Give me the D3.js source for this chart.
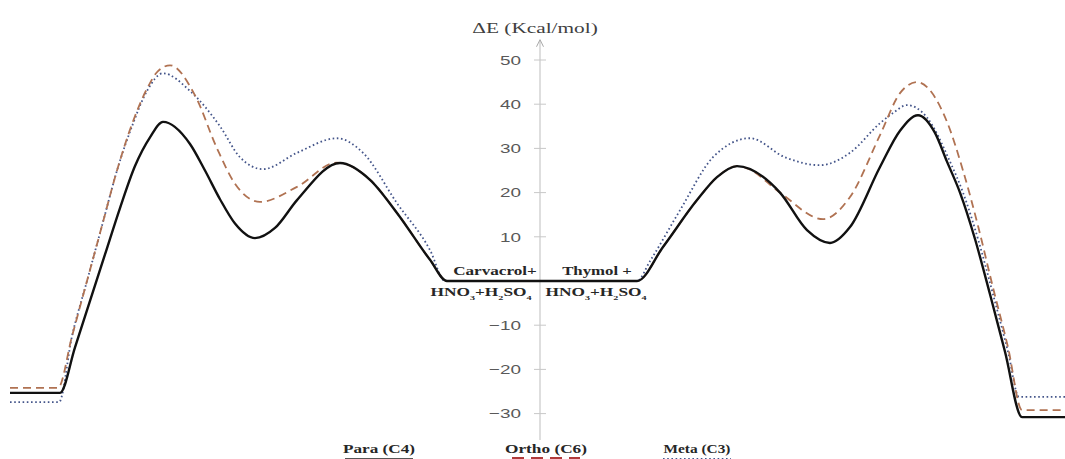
<!DOCTYPE html>
<html>
<head>
<meta charset="utf-8">
<script src="https://cdn.jsdelivr.net/npm/d3@7"></script>
<style>
  body { margin: 0; background: #fff; }
  .tick text { font-family: "Liberation Sans", sans-serif; font-size: 13.5px; fill: #595959; }
  .lbl { font-family: "Liberation Serif", "DejaVu Serif", serif; font-weight: bold; fill: #262626; }
</style>
</head>
<body>
<div id="chart"></div>
<script>
// reaction coordinate (0 = reactants) and energy (kcal/mol)
var paraX  = [-53, -48, -46.5, -45, -43.5, -42, -40.5, -39, -37.7, -35, -33.5, -32, -30.5, -28.5, -26.5, -24.3, -20, -17, -14.3, -11, -9.3, 0,
              9.7, 12.3, 15.7, 17.7, 19.7, 24, 26.7, 29, 31, 34, 36, 37.8, 39.5, 40.7, 42, 43.5, 45, 46.5, 48.2, 52.5];
var paraE  = [-25.3, -25.3, -15, -4.5, 6, 16.5, 26, 32.5, 36, 31, 25, 18.5, 13, 9.7, 12, 18.3, 26.7, 22.9, 15.4, 4.8, 0, 0,
              0, 7.7, 18.3, 23.5, 26, 20, 11.5, 8.6, 12.2, 25.8, 34, 37.5, 33.5, 27, 20, 9.5, -3, -16, -30.8, -30.8];

var orthoX = [-53, -48.2, -46.8, -45.3, -43.8, -42.3, -40.8, -39.3, -38.2, -37, -34.5, -32.3, -30.5, -28, -24.3, -20.3, -17, -14.3, -11, -9.3, 0,
              9.7, 12.3, 15.7, 17.7, 19.7, 20.7, 24, 28.3, 31, 34, 36, 37.7, 40.7, 42.3, 43.8, 45.3, 46.8, 48.2, 52.5];
var orthoE = [-24.2, -24.2, -12.5, 0, 12.5, 25, 35.5, 43.5, 47.5, 48.8, 42, 30, 22, 17.9, 21.3, 26.8, 22.9, 15.4, 4.8, 0, 0,
              0, 7.7, 18.3, 23.5, 26, 25.5, 20, 14, 19, 33, 42.5, 45, 36, 25, 12.5, -1.5, -15, -29.2, -29.2];

var metaX  = [-53, -48.1, -46.8, -45.3, -43.8, -42.3, -40.8, -39.3, -37.7, -35, -32, -30, -27.7, -24.3, -20.3, -17.7, -14.3, -11, -9.5, 0,
              9.7, 11, 14, 17.3, 21, 24.5, 28, 31, 34, 35.3, 36.7, 38.7, 41, 42.3, 43.8, 45.3, 46.8, 47.9, 52.5];
var metaE  = [-27.4, -27.4, -12.5, 0, 12.5, 25, 35, 43, 47, 43, 35, 28, 25.3, 29, 32.3, 29, 17.6, 7, 0, 0,
              0, 4.5, 16, 28, 32.3, 28, 26.2, 29, 35.7, 38, 39.8, 37, 27, 20, 9.5, -3, -16, -26.2, -26.2];

var yTicks = [-30, -20, -10, 10, 20, 30, 40, 50];
var legendNames = ["Para (C4)", "Ortho (C6)", "Meta (C3)"];

var svgWidth = 1065;
var svgHeight = 459;

var svg = d3.select("#chart")
  .append("svg")
  .attr("width", svgWidth)
  .attr("height", svgHeight);

var xScale = d3.scaleLinear().domain([-54, 52.5]).range([0, 1065]);
var yScale = d3.scaleLinear().domain([0, 50]).range([281, 60]);

// the picture is stretched sideways, so text is squeezed into a given width
function placeText(cx, y, size, width, build) {
  var g = svg.append("g").attr("transform", `translate(${cx}, ${y})`);
  var t = g.append("text").attr("class", "lbl").attr("text-anchor", "middle").style("font-size", size + "px");
  build(t);
  var w = t.node().getBBox().width;
  t.attr("transform", `scale(${width / w}, 1)`);
  return t;
}

// y axis in the middle
var axisG = svg.append("g")
  .attr("transform", `translate(${xScale(0)}, 0)`);

axisG.append("line")
  .attr("y1", yScale(-36)).attr("y2", yScale(54.3))
  .attr("stroke", "#c8c8c8").attr("stroke-width", 1.2);

axisG.append("path")
  .attr("d", `M-3.5,${yScale(53)} L0,${yScale(54.6)} L3.5,${yScale(53)}`)
  .attr("fill", "none").attr("stroke", "#a8a8a8").attr("stroke-width", 1);

var leftAxis = d3.axisLeft(yScale).tickValues(yTicks).tickSize(0).tickPadding(13.5);
var axisCall = axisG.append("g").call(leftAxis);
axisCall.select(".domain").remove();
axisCall.selectAll(".tick text").attr("transform", "scale(1.4, 1)");

axisG.selectAll(".tmark")
  .data(yTicks)
  .enter()
  .append("line")
  .attr("x1", -6).attr("x2", 6)
  .attr("y1", d => yScale(d)).attr("y2", d => yScale(d))
  .attr("stroke", "#c8c8c8");

var title = placeText(535, 33, 15, 130, t => t.text("\u0394E (Kcal/mol)"));
title.style("font-weight", "normal").style("fill", "#404040");

// curves
var line = d3.line()
  .x(d => xScale(d[0]))
  .y(d => yScale(d[1]))
  .curve(d3.curveMonotoneX);

var series = [
  { x: metaX, e: metaE, color: "#44558a", width: 1.8, dash: "1.6,2.6" },
  { x: orthoX, e: orthoE, color: "#b07252", width: 1.8, dash: "8,5" },
  { x: paraX, e: paraE, color: "#111", width: 2.4, dash: null }
];

series.forEach(function (s) {
  svg.append("path")
    .datum(s.x.map((v, i) => [v, s.e[i]]))
    .attr("d", line)
    .attr("fill", "none")
    .attr("stroke", s.color)
    .attr("stroke-width", s.width)
    .attr("stroke-dasharray", s.dash);
});

// reactant labels
function chem(t) {
  t.append("tspan").text("HNO");
  t.append("tspan").attr("baseline-shift", "sub").style("font-size", "7px").text("3");
  t.append("tspan").text("+H");
  t.append("tspan").attr("baseline-shift", "sub").style("font-size", "7px").text("2");
  t.append("tspan").text("SO");
  t.append("tspan").attr("baseline-shift", "sub").style("font-size", "7px").text("4");
}
placeText(495, 275, 12, 84, t => t.text("Carvacrol+"));
placeText(481, 296, 12, 102, chem);
placeText(597, 275, 12, 70, t => t.text("Thymol +"));
placeText(596, 296, 12, 102, chem);

// legend
var legX = [379, 546, 697];
var legW = [72, 82, 67];
legendNames.forEach(function (name, i) {
  placeText(legX[i], 453, 13, legW[i], t => t.text(name));
  var s = series[2 - i];
  svg.append("line")
    .attr("x1", legX[i] - 34).attr("x2", legX[i] + 34)
    .attr("y1", 459).attr("y2", 459)
    .attr("stroke", i === 1 ? "#b03a3a" : (i === 0 ? "#555" : s.color))
    .attr("stroke-width", i === 1 ? 4 : 2)
    .attr("stroke-dasharray", i === 1 ? "12,7" : s.dash);
});
</script>
</body>
</html>
